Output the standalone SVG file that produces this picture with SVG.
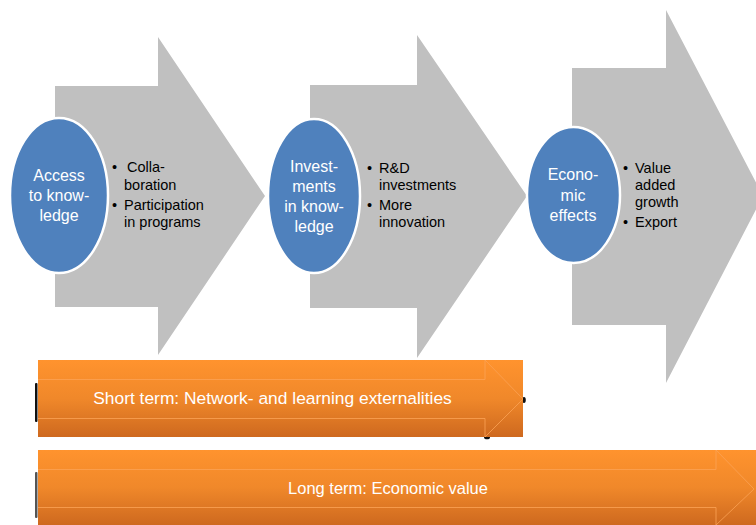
<svg xmlns="http://www.w3.org/2000/svg" width="756" height="525" viewBox="0 0 756 525">
  <defs>
    <linearGradient id="orange" x1="0" y1="0" x2="0" y2="1">
      <stop offset="0" stop-color="#FF932E"/>
      <stop offset="0.5" stop-color="#F0882A"/>
      <stop offset="1" stop-color="#CE691F"/>
    </linearGradient>
  </defs>
  <style>
    .chev { fill: #C0C0C0; }
    .oval { fill: #4F81BD; stroke: #FFFFFF; stroke-width: 2.5; }
    .oval-text { font-family: "Liberation Sans", Arial, sans-serif; font-size: 16px; fill: #FFFFFF; text-anchor: middle; }
    .bullets { font-family: "Liberation Sans", Arial, sans-serif; font-size: 14.5px; fill: #000000; }
    .bar { fill: url(#orange); }
    .bar-outline { fill: none; stroke: #FBA255; stroke-width: 1; opacity: 0.8; }
    .bar-text { font-family: "Liberation Sans", Arial, sans-serif; font-size: 16.5px; fill: #FFFFFF; text-anchor: middle; }
    .edge { fill: #111111; }
  </style>

  <!-- Stage 1: access to knowledge -->
  <g id="stage-access">
    <polygon class="chev" points="55,86 158,86 158,37 265,196 158,355 158,307 55,307"/>
    <ellipse class="oval" cx="59" cy="195.5" rx="49" ry="77.5"/>
    <text class="oval-text" x="59" y="181">Access</text>
    <text class="oval-text" x="59" y="201">to know-</text>
    <text class="oval-text" x="59" y="221">ledge</text>
    <text class="bullets">
      <tspan x="112" y="172">•</tspan><tspan x="127" y="172">Colla-</tspan>
      <tspan x="124" y="190">boration</tspan>
      <tspan x="112" y="210">•</tspan><tspan x="124" y="210">Participation</tspan>
      <tspan x="124" y="227">in programs</tspan>
    </text>
  </g>

  <!-- Stage 2: investments in knowledge -->
  <g id="stage-investments">
    <polygon class="chev" points="310,85 417,85 417,35 527,196 417,358 417,308 310,308"/>
    <ellipse class="oval" cx="314" cy="196" rx="46" ry="77"/>
    <text class="oval-text" x="314" y="172">Invest-</text>
    <text class="oval-text" x="314" y="192">ments</text>
    <text class="oval-text" x="314" y="212">in know-</text>
    <text class="oval-text" x="314" y="232">ledge</text>
    <text class="bullets">
      <tspan x="367" y="173">•</tspan><tspan x="379" y="173">R&amp;D</tspan>
      <tspan x="379" y="190">investments</tspan>
      <tspan x="367" y="210">•</tspan><tspan x="379" y="210">More</tspan>
      <tspan x="379" y="227">innovation</tspan>
    </text>
  </g>

  <!-- Stage 3: economic effects -->
  <g id="stage-economic">
    <polygon class="chev" points="572,68 666,68 666,10 763,196 666,383 666,325 572,325"/>
    <ellipse class="oval" cx="573.5" cy="195" rx="46.5" ry="68"/>
    <text class="oval-text" x="573" y="180">Econo-</text>
    <text class="oval-text" x="573" y="201">mic</text>
    <text class="oval-text" x="573" y="221">effects</text>
    <text class="bullets">
      <tspan x="623" y="173">•</tspan><tspan x="635" y="173">Value</tspan>
      <tspan x="635" y="190">added</tspan>
      <tspan x="635" y="207">growth</tspan>
      <tspan x="623" y="227">•</tspan><tspan x="635" y="227">Export</tspan>
    </text>
  </g>

  <!-- Time horizon bars -->
  <g id="connectors">
    <g id="short-term">
      <rect class="edge" x="35" y="383" width="2.5" height="39" rx="1"/>
      <ellipse class="edge" cx="524" cy="400" rx="1.8" ry="3"/>
      <ellipse class="edge" cx="487" cy="437.5" rx="3" ry="1.8"/>
      <rect class="bar" x="38" y="360" width="485" height="77"/>
      <polyline class="bar-outline" points="38,379.5 485,379.5 485,360 523,399 485,437 485,418.5 38,418.5"/>
      <text class="bar-text" x="272.5" y="404" style="font-size:17.4px">Short term: Network- and learning externalities</text>
    </g>
    <g id="long-term">
      <rect x="35" y="472" width="2.5" height="46" rx="1" fill="#555555"/>
      <ellipse class="edge" cx="756" cy="489" rx="1.5" ry="2.5"/>
      <rect class="bar" x="38" y="450" width="718" height="75"/>
      <polyline class="bar-outline" points="38,469.5 716,469.5 716,450 754,489 716,525 716,507.5 38,507.5"/>
      <text class="bar-text" x="388" y="494">Long term: Economic value</text>
    </g>
  </g>
</svg>
